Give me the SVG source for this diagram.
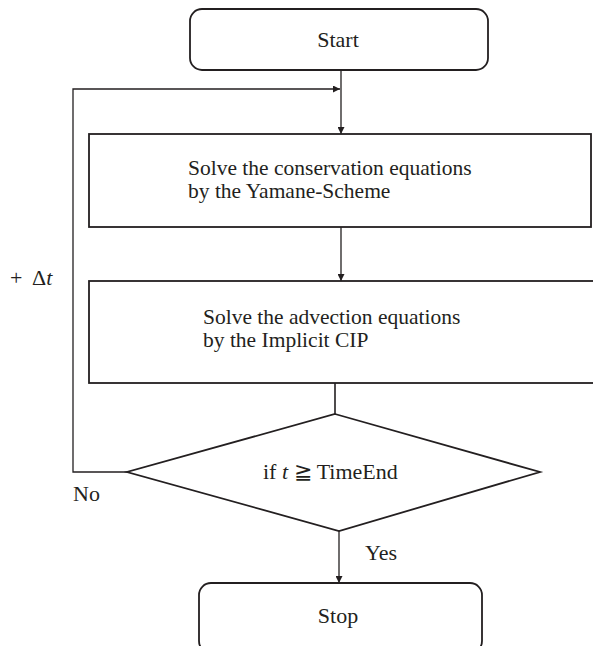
<svg xmlns="http://www.w3.org/2000/svg" width="593" height="646" viewBox="0 0 593 646">
<style>
.box{fill:none;stroke:#231f20;stroke-width:1.8}
.ln{fill:none;stroke:#231f20;stroke-width:1.3}
text{font-family:"Liberation Serif","Times New Roman",serif;font-size:22px;fill:#231f20}
.m{font-size:21.5px}
.c{text-anchor:middle}
</style>
<defs>
<marker id="ah" viewBox="0 0 10 10" refX="10" refY="5" markerWidth="7" markerHeight="7" markerUnits="userSpaceOnUse" orient="auto">
<path d="M0,0 L10,5 L0,10 z" fill="#231f20"/>
</marker>
</defs>
<rect width="593" height="646" fill="#fff"/>
<g id="connectors">
<line class="ln" x1="341" y1="70" x2="341" y2="134" marker-end="url(#ah)"/>
<polyline class="ln" points="127,472 73,472 73,89 340,89" marker-end="url(#ah)"/>
<line class="ln" x1="341" y1="227" x2="341" y2="281" marker-end="url(#ah)"/>
<line class="ln" x1="335" y1="383" x2="335" y2="414" style="stroke-width:1.6"/>
<line class="ln" x1="339" y1="531" x2="339" y2="583" marker-end="url(#ah)"/>
<text x="10" y="285">+<tspan x="32">Δ</tspan><tspan font-style="italic">t</tspan></text>
<text x="73" y="501">No</text>
<text x="365" y="560">Yes</text>
</g>
<g id="start">
<rect class="box" x="190" y="9" width="298" height="61" rx="12"/>
<text class="c" x="338" y="47">Start</text>
</g>
<g id="solve-conservation">
<rect class="box" x="89" y="134" width="502" height="93"/>
<text class="m" x="188" y="175">Solve the conservation equations</text>
<text class="m" x="188" y="198">by the Yamane-Scheme</text>
</g>
<g id="solve-advection">
<rect class="box" x="89" y="281" width="506" height="102"/>
<text class="m" x="203" y="324">Solve the advection equations</text>
<text class="m" x="203" y="347">by the Implicit CIP</text>
</g>
<g id="decision">
<polygon class="box" points="335,414 540,472 339,531 127,472"/>
<text x="263" y="479">if <tspan font-style="italic">t</tspan> ≧ TimeEnd</text>
</g>
<g id="stop">
<rect class="box" x="199" y="583" width="283" height="70" rx="12"/>
<text class="c" x="338" y="623">Stop</text>
</g>
</svg>
